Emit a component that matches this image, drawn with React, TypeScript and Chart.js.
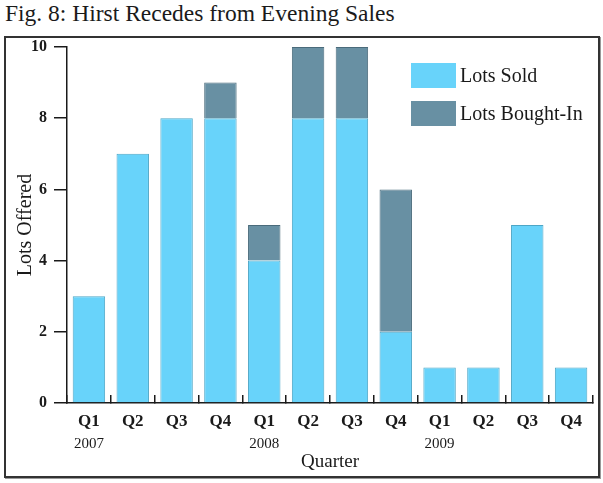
import React, { useEffect, useRef } from 'react';
import { Chart, registerables } from 'chart.js';

Chart.register(...registerables);

const quarters = ['Q1', 'Q2', 'Q3', 'Q4', 'Q1', 'Q2', 'Q3', 'Q4', 'Q1', 'Q2', 'Q3', 'Q4'];
const years = ['2007', '', '', '', '2008', '', '', '', '2009', '', '', ''];
const lotsSold = [3, 7, 8, 8, 4, 8, 8, 2, 1, 1, 5, 1];
const lotsBoughtIn = [0, 0, 0, 1, 1, 2, 2, 4, 0, 0, 0, 0];
const seriesNames = ['Lots Sold', 'Lots Bought-In'];
const seriesColors = ['#68D3FA', '#6890A3'];
const seriesBorders = ['#4DA6C6', '#4A6B7B'];

const FONT = '"Liberation Serif", "DejaVu Serif", serif';
const INK = '#1a1a1a';

const App = () => {
  const chartRef = useRef<HTMLCanvasElement>(null);

  useEffect(() => {
    document.body.style.margin = '0';
    const chart = new Chart(chartRef.current, {
      type: 'bar',
      data: {
        labels: quarters,
        datasets: [
          {
            label: seriesNames[0],
            data: lotsSold,
            backgroundColor: seriesColors[0],
            borderColor: seriesBorders[0],
            borderWidth: 1,
            barPercentage: 0.74,
            categoryPercentage: 1,
          },
          {
            label: seriesNames[1],
            data: lotsBoughtIn,
            backgroundColor: seriesColors[1],
            borderColor: seriesBorders[1],
            borderWidth: 1,
            barPercentage: 0.74,
            categoryPercentage: 1,
          },
        ],
      },
      options: {
        animation: false,
        responsive: false,
        layout: { padding: { left: 6, right: 10, top: 47, bottom: 10 } },
        scales: {
          x: {
            stacked: true,
            offset: true,
            grid: {
              offset: true,
              drawOnChartArea: false,
              drawTicks: true,
              tickLength: -8,
              color: INK,
              lineWidth: 1.5,
            },
            border: { display: true, color: INK, width: 1.5 },
            ticks: {
              padding: 18.5,
              color: INK,
              font: { family: FONT, size: 17, weight: 'bold', lineHeight: 1 },
              maxRotation: 0,
              autoSkip: false,
            },
            afterFit: (scale) => {
              scale.height = 27;
            },
          },
          x2: {
            type: 'category',
            labels: years,
            position: 'bottom',
            offset: true,
            grid: { display: false },
            border: { display: false },
            ticks: {
              padding: -1,
              color: INK,
              font: { family: FONT, size: 15, lineHeight: 1 },
              maxRotation: 0,
              autoSkip: false,
            },
            title: {
              display: true,
              text: 'Quarter',
              color: INK,
              font: { family: FONT, size: 19, lineHeight: 1.2 },
              padding: { top: 0, bottom: 0 },
            },
            afterFit: (scale) => {
              scale.height = 43;
            },
          },
          y: {
            stacked: true,
            min: 0,
            max: 10,
            grid: {
              drawOnChartArea: false,
              drawTicks: true,
              tickLength: 13,
              color: INK,
              lineWidth: 1.5,
            },
            border: { display: true, color: INK, width: 1.5 },
            ticks: {
              stepSize: 2,
              padding: 7,
              color: INK,
              font: { family: FONT, size: 16, weight: 'bold' },
            },
            title: {
              display: true,
              text: 'Lots Offered',
              color: INK,
              font: { family: FONT, size: 20 },
              padding: { top: 8, bottom: 0 },
            },
            afterFit: (scale) => {
              scale.width = 61;
            },
          },
        },
        plugins: {
          legend: { display: false },
          tooltip: { enabled: false },
        },
      },
    });

    return () => chart.destroy();
  }, []);

  return (
    <div style={{ position: 'relative', width: 603, height: 483, background: '#fff' }}>
      <div
        style={{
          position: 'absolute',
          left: 5,
          top: 0,
          fontFamily: FONT,
          fontSize: 23.5,
          color: INK,
          whiteSpace: 'nowrap',
        }}
      >
        Fig. 8: Hirst Recedes from Evening Sales
      </div>
      <div
        style={{
          position: 'absolute',
          left: 4,
          top: 36,
          width: 592,
          height: 438,
          border: '2px solid #333',
          boxShadow: '1px 1px 0 #999',
        }}
      />
      <canvas ref={chartRef} width={603} height={483} style={{ position: 'absolute', left: 0, top: 0 }} />
      {seriesNames.map((name, i) => (
        <div
          key={name}
          style={{
            position: 'absolute',
            left: 411,
            top: 63 + i * 38,
            height: 25,
            display: 'flex',
            alignItems: 'center',
            fontFamily: FONT,
            fontSize: 20,
            color: INK,
          }}
        >
          <span style={{ display: 'inline-block', width: 45, height: 25, background: seriesColors[i], marginRight: 4 }} />
          {name}
        </div>
      ))}
    </div>
  );
};

export default App;
